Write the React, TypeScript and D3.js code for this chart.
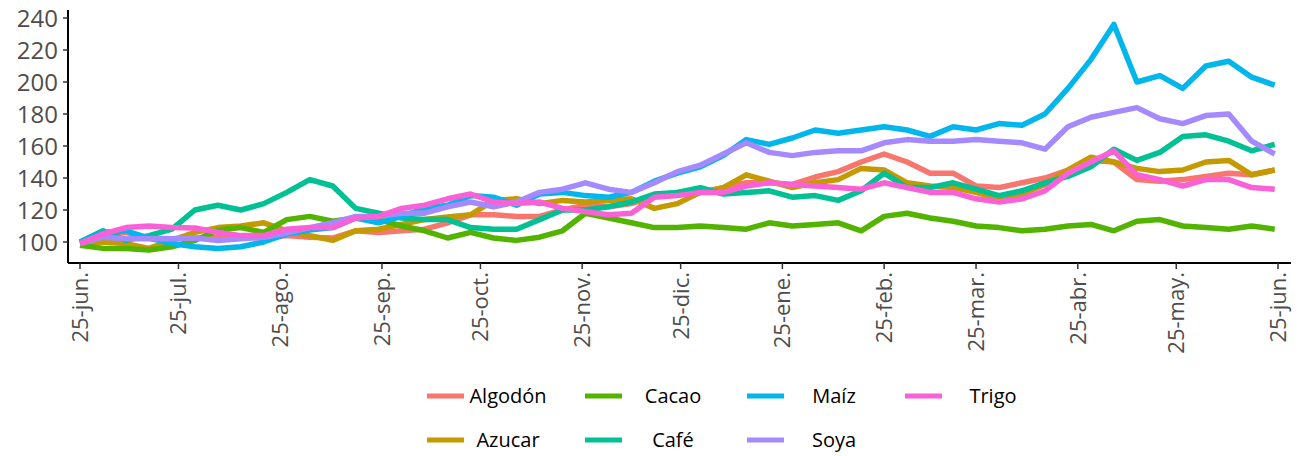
import React from "react";
import * as d3 from "d3";

const startDate = new Date(2020, 5, 25);
const weeks = 53;
const dates: Date[] = d3.range(weeks).map((i) => d3.timeDay.offset(startDate, i * 7));

const seriesNames = ["Algodón", "Azucar", "Cacao", "Café", "Maíz", "Soya", "Trigo"];
const seriesColors = ["#F8766D", "#C49A00", "#53B400", "#00C094", "#00B6EB", "#A58AFF", "#FB61D7"];

const algodon = [100, 105, 106, 102.5, 102, 102.5, 103, 103, 102.5, 104, 103, 102.5, 107, 106, 107, 108, 112, 117, 117, 116, 116, 120, 123, 122, 124, 129, 131, 131, 134, 137, 137, 136, 140.6, 144, 150, 155, 150, 143, 143, 135, 134, 137, 140, 145, 151, 150, 139, 138, 139, 141, 143, 142, 145];
const azucar = [99, 100, 99, 96, 101, 106, 109, 110, 112, 107, 104, 101, 107, 108, 111, 114, 115.6, 117, 126, 127, 124, 126, 125, 126, 127, 121, 124, 131, 134, 142, 138, 134, 137, 139, 146, 145, 137, 135, 134, 131, 127, 130, 136, 145, 153, 150, 146, 144, 145, 150, 151, 142, 145];
const cacao = [98, 96, 96, 95, 97, 101, 107.5, 109, 106, 114, 116, 113, 115, 114, 110, 107, 102.5, 106, 102.5, 101, 103, 107, 118, 115, 112, 109, 109, 110, 109, 108, 112, 110, 111, 112, 107, 116, 118, 115, 113, 110, 109, 107, 108, 110, 111, 107, 113, 114, 110, 109, 108, 110, 108];
const cafe = [100, 107, 101, 104, 108, 120, 123, 120, 124, 131, 139, 135, 121, 118, 115, 114, 114, 109, 108, 108, 114, 120, 120, 122, 125, 130, 131, 134, 130, 131, 132, 128, 129, 126, 132, 143, 134, 134, 137, 133, 129, 132, 137, 141, 147, 158, 151, 156, 166, 167, 163, 157, 161];
const maiz = [100, 106, 107, 102.5, 99, 97, 96, 97, 100, 105, 107.5, 109, 115, 112, 116, 121, 123, 129, 128, 123, 130, 131, 129, 128, 131, 138, 143, 147, 154, 164, 161, 165, 170, 168, 170, 172, 170, 166, 172, 170, 174, 173, 180, 196, 214, 236, 200, 204, 196, 210, 213, 203, 198];
const soya = [99, 103, 102, 102, 102, 102.5, 101, 102, 103, 105.5, 109, 112, 116, 116, 118, 118, 122, 125, 122, 125, 131, 133, 137, 133, 131, 137, 144, 148, 155, 162, 156, 154, 156, 157, 157, 162, 164, 163, 163, 164, 163, 162, 158, 172, 178, 181, 184, 177, 174, 179, 180, 163, 155];
const trigo = [99, 105, 109, 110, 109, 108.75, 106, 104, 104, 108, 109, 109, 115, 116, 121, 123, 127, 130, 125, 124, 125, 121, 119, 117, 118, 128, 129, 131, 131, 135, 137, 136, 135, 134, 133, 137, 134, 131, 131, 127, 125, 127, 132, 143, 150, 157, 142, 139, 135, 139, 139, 134, 133];

const seriesValues = [algodon, azucar, cacao, cafe, maiz, soya, trigo];

const yTicks = [100, 120, 140, 160, 180, 200, 220, 240];
const monthLabels = ["jun.", "jul.", "ago.", "sep.", "oct.", "nov.", "dic.", "ene.", "feb.", "mar.", "abr.", "may.", "jun."];
const xTickDates = monthLabels.map((_, i) => new Date(2020, 5 + i, 25));

export default function App() {
  const W = 1302;
  const H = 456;
  const axisX = 68;
  const axisY = 263;
  const x = d3
    .scaleTime()
    .domain([startDate, new Date(2021, 5, 25)])
    .range([80, 1278]);
  const y = d3.scaleLinear().domain([100, 240]).range([242, 18]);
  const line = d3
    .line<number>()
    .x((_, i) => x(dates[i]))
    .y((v) => y(v));

  const legendCols = [
    { keyX: 427, labelX: 508 },
    { keyX: 585, labelX: 673 },
    { keyX: 747, labelX: 834 },
    { keyX: 905, labelX: 993 },
  ];
  const legendRows = [396, 440];

  return (
    <svg width={W} height={H} style={{ position: "absolute", left: 0, top: 0, background: "#fff" }}>
      <g>
        {seriesValues.map((vals, si) => (
          <path
            key={seriesNames[si]}
            d={line(vals) || ""}
            fill="none"
            stroke={seriesColors[si]}
            strokeWidth={5.5}
            strokeLinejoin="round"
            strokeLinecap="butt"
          />
        ))}
      </g>
      {/* Y axis */}
      <line x1={axisX} x2={axisX} y1={10} y2={axisY} stroke="#000" strokeWidth={2} />
      {yTicks.map((t) => (
        <g key={t}>
          <line x1={axisX - 5} x2={axisX} y1={y(t)} y2={y(t)} stroke="#333" strokeWidth={1.5} />
          <text
            x={axisX - 10}
            y={y(t)}
            dy="0.36em"
            textAnchor="end"
            fontFamily="Open Sans"
            fontSize={24}
            fill="#4D4D4D"
          >
            {t}
          </text>
        </g>
      ))}
      {/* X axis */}
      <line x1={axisX} x2={1291} y1={axisY} y2={axisY} stroke="#000" strokeWidth={2} />
      {xTickDates.map((d, i) => (
        <g key={i}>
          <line x1={x(d)} x2={x(d)} y1={axisY} y2={axisY + 6} stroke="#333" strokeWidth={1.5} />
          <text
            transform={`translate(${x(d)},${axisY + 9}) rotate(-90)`}
            dy="0.36em"
            textAnchor="end"
            fontFamily="Open Sans"
            fontSize={22}
            fill="#4D4D4D"
          >
            {`25-${monthLabels[i]}`}
          </text>
        </g>
      ))}
      {/* Legend */}
      {seriesNames.map((name, si) => {
        const col = Math.floor(si / 2);
        const row = si % 2;
        const c = legendCols[col];
        const ly = legendRows[row];
        return (
          <g key={name}>
            <line x1={c.keyX} x2={c.keyX + 37} y1={ly} y2={ly} stroke={seriesColors[si]} strokeWidth={5} />
            <text x={c.labelX} y={ly} dy="0.36em" textAnchor="middle" fontFamily="Open Sans" fontSize={20} fill="#000">
              {name}
            </text>
          </g>
        );
      })}
    </svg>
  );
}
